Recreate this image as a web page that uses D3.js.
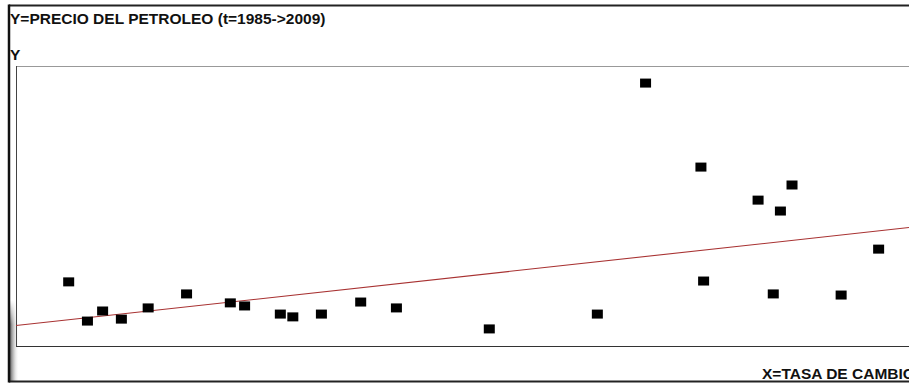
<!DOCTYPE html>
<html>
<head>
<meta charset="utf-8">
<script src="https://cdn.jsdelivr.net/npm/d3@7"></script>
<style>
  html, body { margin: 0; padding: 0; background: #fff; overflow: hidden; }
  svg { display: block; }
</style>
</head>
<body>
<svg id="chart" width="909" height="384"></svg>
<script>
// ---- data (arbitrary 0..100 units for both axes) ----
const tasaCambio = [5.9, 8.0, 9.7, 11.8, 14.8, 19.1, 24.0, 25.6, 29.6, 31.0, 34.2, 38.6,
                    42.6, 53.0, 65.1, 70.5, 76.7, 77.0, 83.1, 84.8, 85.6, 86.9, 92.4, 96.6];
const precioPetroleo = [22.9, 8.9, 12.5, 9.6, 13.6, 18.6, 15.4, 14.3, 11.4, 10.4, 11.4, 15.7,
                        13.6, 6.1, 11.4, 93.9, 63.9, 23.2, 52.1, 18.6, 48.2, 57.5, 18.2, 34.6];
const trendX = [0, 100];
const trendY = [7.3, 42.3];
const titleText = "Y=PRECIO DEL PETROLEO (t=1985->2009)";
const yLabel = "Y";
const xLabel = "X=TASA DE CAMBIO";

const svg = d3.select("#chart");
const box = { left: 16, top: 66, right: 915, bottom: 346 };

const x = d3.scaleLinear().domain([0, 100]).range([box.left, 909]);
const y = d3.scaleLinear().domain([0, 100]).range([box.bottom, box.top]);

// soft shadow at the lower left
const defs = svg.append("defs");
const gh = defs.append("linearGradient").attr("id", "shadeH").attr("x1", "0").attr("x2", "1");
gh.append("stop").attr("offset", "0").attr("stop-color", "#444").attr("stop-opacity", 0.85);
gh.append("stop").attr("offset", "0.5").attr("stop-color", "#999").attr("stop-opacity", 0.4);
gh.append("stop").attr("offset", "1").attr("stop-color", "#fff").attr("stop-opacity", 0);
const gv = defs.append("linearGradient").attr("id", "shadeV").attr("x1", "0").attr("x2", "0").attr("y1", "0").attr("y2", "1");
gv.append("stop").attr("offset", "0").attr("stop-color", "#000");
gv.append("stop").attr("offset", "0.3").attr("stop-color", "#fff");
gv.append("stop").attr("offset", "1").attr("stop-color", "#fff");
defs.append("mask").attr("id", "shadeMask").attr("maskUnits", "userSpaceOnUse")
  .append("rect").attr("x", 10).attr("y", 300).attr("width", 10).attr("height", 82).attr("fill", "url(#shadeV)");
svg.append("rect").attr("x", 10).attr("y", 300).attr("width", 9).attr("height", 82)
  .attr("fill", "url(#shadeH)").attr("mask", "url(#shadeMask)");

// outer frame
svg.append("line").attr("x1", 9).attr("x2", 909).attr("y1", 5.5).attr("y2", 5.5)
  .attr("stroke", "#222").attr("stroke-width", 2);
svg.append("line").attr("x1", 9).attr("x2", 909).attr("y1", 381.5).attr("y2", 381.5)
  .attr("stroke", "#222").attr("stroke-width", 2);
svg.append("line").attr("x1", 9).attr("x2", 9).attr("y1", 4.5).attr("y2", 382.5)
  .attr("stroke", "#111").attr("stroke-width", 2.5);

// plot box
svg.append("line").attr("x1", box.left).attr("x2", box.right).attr("y1", box.top + 0.5).attr("y2", box.top + 0.5)
  .attr("stroke", "#999").attr("stroke-width", 1);
svg.append("line").attr("x1", box.left + 0.5).attr("x2", box.left + 0.5).attr("y1", box.top).attr("y2", box.bottom + 1)
  .attr("stroke", "#444").attr("stroke-width", 1);
svg.append("line").attr("x1", box.left).attr("x2", box.right).attr("y1", box.bottom + 0.5).attr("y2", box.bottom + 0.5)
  .attr("stroke", "#333").attr("stroke-width", 1.2);

// texts
const font = "'Liberation Sans', Arial, sans-serif";
svg.append("text").attr("x", 10).attr("y", 24).text(titleText)
  .attr("font-family", font).attr("font-weight", "bold").attr("font-size", 15.5).attr("fill", "#111");
svg.append("text").attr("x", 10).attr("y", 60).text(yLabel)
  .attr("font-family", font).attr("font-weight", "bold").attr("font-size", 15.5).attr("fill", "#111");
svg.append("text").attr("x", 762).attr("y", 379).text(xLabel)
  .attr("font-family", font).attr("font-weight", "bold").attr("font-size", 15.5).attr("fill", "#111");

// trend line
const line = d3.line().x(d => x(d[0])).y(d => y(d[1]));
svg.append("path").datum(d3.zip(trendX, trendY)).attr("d", line)
  .attr("fill", "none").attr("stroke", "#a83232").attr("stroke-width", 1.1);

// points
const pts = d3.zip(tasaCambio, precioPetroleo);
svg.append("g").selectAll("rect").data(pts).join("rect")
  .attr("x", d => x(d[0]) - 5.5)
  .attr("y", d => y(d[1]) - 4.5)
  .attr("width", 11).attr("height", 9)
  .attr("fill", "#000");
</script>
</body>
</html>
